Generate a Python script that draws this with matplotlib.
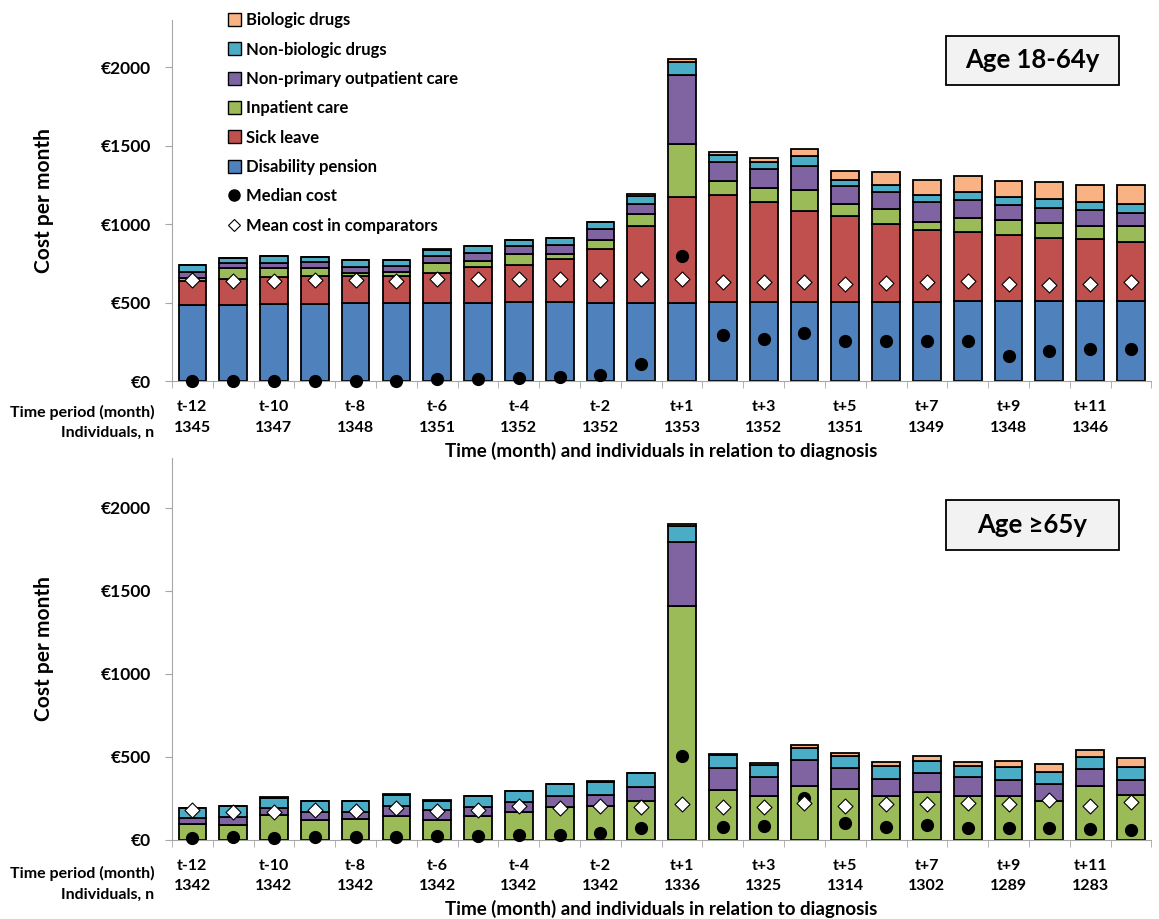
import matplotlib
matplotlib.use("Agg")
import matplotlib.pyplot as plt
from matplotlib.patches import Patch, Rectangle
from matplotlib.lines import Line2D
import numpy as np

plt.rcParams['font.family'] = ['Lato', 'DejaVu Sans']
plt.rcParams['font.weight'] = 'bold'

periods = ["t-12", "t-11", "t-10", "t-9", "t-8", "t-7", "t-6", "t-5", "t-4", "t-3", "t-2", "t-1",
           "t+1", "t+2", "t+3", "t+4", "t+5", "t+6", "t+7", "t+8", "t+9", "t+10", "t+11", "t+12"]

# Age 18-64y
young_disability = [487, 485, 489, 489, 496, 496, 496, 500, 506, 506, 500, 500,
                    500, 502, 502, 502, 502, 502, 502, 509, 509, 513, 513, 509]
young_sick = [153, 168, 171, 177, 170, 170, 191, 224, 232, 271, 341, 485,
              672, 681, 639, 583, 547, 500, 462, 440, 421, 398, 391, 376]
young_inpatient = [19, 64, 57, 51, 21, 30, 62, 42, 71, 32, 59, 79,
                   335, 94, 89, 130, 79, 94, 51, 89, 98, 95, 81, 100]
young_outpatient = [38, 38, 38, 43, 39, 40, 45, 49, 53, 57, 68, 64,
                    440, 121, 121, 158, 113, 108, 123, 113, 96, 96, 102, 85]
young_nonbio = [40, 28, 39, 27, 42, 34, 42, 43, 36, 43, 43, 53,
                85, 43, 43, 59, 42, 47, 49, 51, 46, 58, 51, 60]
young_bio = [3, 3, 3, 3, 3, 3, 3, 3, 3, 3, 3, 10,
             17, 21, 25, 49, 53, 83, 96, 102, 103, 106, 113, 121]
young_median = [0, 0, 0, 0, 0, 0, 11, 11, 17, 26, 36, 111,
                794, 294, 268, 304, 257, 253, 257, 253, 160, 192, 202, 206]
young_comp = [645, 638, 638, 645, 645, 638, 649, 653, 653, 653, 643, 653,
              649, 628, 628, 634, 617, 623, 634, 640, 617, 609, 621, 628]
young_n = [1345, 1347, 1348, 1351, 1352, 1352, 1353, 1352, 1351, 1349, 1348, 1346]

# Age >=65y
old_disability = [0] * 24
old_sick = [0] * 24
old_inpatient = [96, 92, 151, 122, 127, 147, 122, 143, 167, 197, 203, 233,
                 1410, 303, 263, 323, 309, 267, 287, 263, 263, 233, 323, 269]
old_outpatient = [39, 47, 44, 45, 40, 60, 57, 56, 62, 70, 68, 84,
                  383, 131, 115, 161, 125, 102, 117, 115, 96, 104, 105, 90]
old_nonbio = [56, 66, 58, 68, 66, 66, 58, 64, 66, 70, 78, 87,
              100, 76, 72, 70, 70, 75, 72, 66, 79, 71, 74, 81]
old_bio = [2, 2, 5, 2, 2, 2, 4, 2, 2, 2, 5, 2,
           10, 10, 12, 20, 20, 26, 28, 26, 36, 48, 42, 52]
old_median = [12, 18, 12, 18, 18, 18, 22, 26, 32, 32, 42, 70,
              508, 80, 84, 251, 102, 76, 90, 70, 70, 70, 68, 62]
old_comp = [179, 169, 169, 183, 173, 195, 175, 179, 207, 195, 207, 201,
            219, 199, 199, 223, 203, 215, 219, 225, 215, 241, 203, 229]
old_n = [1342, 1342, 1342, 1342, 1342, 1342, 1336, 1325, 1314, 1302, 1289, 1283]

categories = ["Disability pension", "Sick leave", "Inpatient care",
              "Non-primary outpatient care", "Non-biologic drugs", "Biologic drugs"]
colors = ["#4F81BD", "#C0504D", "#9BBB59", "#8064A2", "#4BACC6", "#F9B283"]
gray = "#a6a6a6"


def draw_panel(ax, stacks, median, comp, n_list, title, box_y, legend=False):
    ax.patch.set_visible(False)
    x = np.arange(len(periods))
    bottom = np.zeros(len(periods))
    for vals, col, name in zip(stacks, colors, categories):
        ax.bar(x, vals, 0.68, bottom=bottom, color=col, edgecolor="black",
               linewidth=1.3, label=name, zorder=2)
        bottom += np.array(vals)
    ax.scatter(x, median, s=72, color="black", zorder=4, clip_on=False)
    ax.scatter(x, comp, s=58, marker="D", facecolor="white", edgecolor="black",
               linewidth=0.8, zorder=5, clip_on=False)

    ax.set_xlim(-0.5, len(periods) - 0.5)
    ax.set_ylim(0, 2300)
    ax.set_yticks([0, 500, 1000, 1500, 2000])
    ax.set_yticklabels(["€0", "€500", "€1000", "€1500", "€2000"], fontsize=12.5, fontweight="bold")
    ax.tick_params(axis="y", length=5, color=gray, pad=10)

    shown = list(range(0, 24, 2))
    ax.set_xticks(shown)
    ax.set_xticklabels([f"{periods[i]}\n{n}" for i, n in zip(shown, n_list)],
                       fontsize=11.5, fontweight="bold", linespacing=1.55)
    ax.set_xticks(np.arange(-0.5, 24, 1), minor=True)
    ax.tick_params(axis="x", which="major", length=0, pad=14)
    ax.tick_params(axis="x", which="minor", length=5, color=gray)

    for s in ["top", "right"]:
        ax.spines[s].set_visible(False)
    for s in ["left", "bottom"]:
        ax.spines[s].set_color(gray)

    ax.set_ylabel("Cost per month", fontsize=15, fontweight="bold", labelpad=34)
    ax.set_xlabel("Time (month) and individuals in relation to diagnosis",
                  fontsize=13.5, fontweight="bold", labelpad=5)
    ax.text(-0.018, -0.115, "Time period (month)\nIndividuals, n", transform=ax.transAxes,
            ha="right", va="center", fontsize=11.5, fontweight="bold", linespacing=1.55)

    y0, y1 = box_y
    ax.add_patch(Rectangle((0.790, y0), 0.177, y1 - y0, transform=ax.transAxes,
                           facecolor="#f2f2f2", edgecolor="black", linewidth=1.3,
                           clip_on=False, zorder=6))
    ax.text(0.8785, (y0 + y1) / 2, title, transform=ax.transAxes, ha="center", va="center",
            fontsize=18.5, fontweight="bold", zorder=7)

    if legend:
        handles = [Patch(facecolor=c, edgecolor="black", linewidth=1.0) for c in colors[::-1]]
        labels = categories[::-1]
        handles += [Line2D([], [], marker="o", color="black", linestyle="none", markersize=8),
                    Line2D([], [], marker="D", markerfacecolor="white", markeredgecolor="black",
                           linestyle="none", markersize=6.5, markeredgewidth=0.8)]
        labels += ["Median cost", "Mean cost in comparators"]
        ax.legend(handles, labels, loc="upper left", bbox_to_anchor=(0.05, 1.04),
                  frameon=False, fontsize=12, handlelength=0.8, handleheight=0.8,
                  handletextpad=0.3, labelspacing=0.8, borderaxespad=0)


fig = plt.figure(figsize=(11.59, 9.19), dpi=100)
ax_top = fig.add_axes([0.1484, 0.5854, 0.845, 0.3928])
ax_bot = fig.add_axes([0.1484, 0.0860, 0.845, 0.4157])

draw_panel(ax_top, [young_disability, young_sick, young_inpatient, young_outpatient, young_nonbio, young_bio],
           young_median, young_comp, young_n, "Age 18-64y", (0.820, 0.956), legend=True)
draw_panel(ax_bot, [old_disability, old_sick, old_inpatient, old_outpatient, old_nonbio, old_bio],
           old_median, old_comp, old_n, "Age ≥65y", (0.759, 0.890))

fig.savefig("out.png", dpi=100)
